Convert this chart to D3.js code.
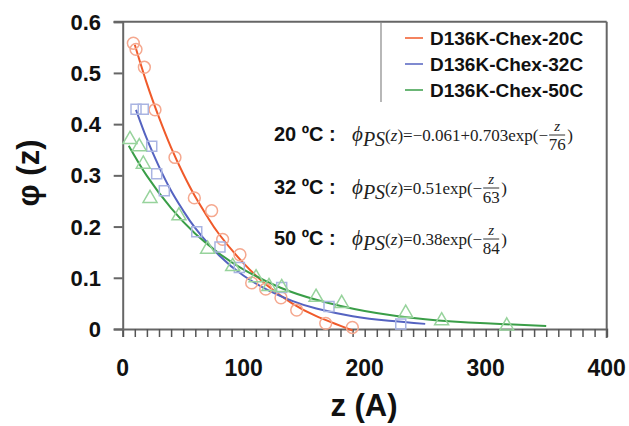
<!DOCTYPE html>
<html><head><meta charset="utf-8">
<script src="https://cdn.jsdelivr.net/npm/d3@7"></script>
<style>body{margin:0;background:#fff}svg{display:block}</style>
</head><body>
<script>
// ---- data ----
const seriesNames = ["D136K-Chex-20C", "D136K-Chex-32C", "D136K-Chex-50C"];
const xTicks = [0, 100, 200, 300, 400];
const yTicks = [0, 0.1, 0.2, 0.3, 0.4, 0.5, 0.6];

// measured points
const z20 = [8.8, 11, 17.9, 26.7, 43.2, 59.2, 73.5, 82.6, 96.9, 106.6, 118.2, 130.8, 143.8, 167.8, 189.8];
const p20 = [0.558, 0.546, 0.511, 0.428, 0.335, 0.256, 0.231, 0.175, 0.145, 0.090, 0.078, 0.061, 0.037, 0.011, 0.003];
const z32 = [11, 17, 24, 28.1, 34.4, 61.2, 80.4, 96.4, 131.4, 170.5, 229.8];
const p32 = [0.429, 0.429, 0.357, 0.303, 0.270, 0.190, 0.160, 0.120, 0.081, 0.044, 0.010];
const z50 = [6, 13.7, 17, 22.6, 46.5, 70.2, 90.9, 110.2, 120.9, 131.4, 159.8, 181, 233.9, 263.6, 317.4];
const p50 = [0.370, 0.356, 0.322, 0.255, 0.221, 0.156, 0.122, 0.100, 0.083, 0.081, 0.062, 0.050, 0.031, 0.016, 0.006];

// fitted curves
const fz20 = [10, 20, 30, 40, 50, 60, 70, 80, 100, 120, 140, 160, 190];
const fp20 = [0.555, 0.479, 0.413, 0.354, 0.303, 0.258, 0.219, 0.184, 0.128, 0.084, 0.050, 0.025, -0.003];
const fz32 = [11, 20, 30, 40, 50, 60, 80, 100, 120, 140, 160, 190, 220, 250];
const fp32 = [0.428, 0.371, 0.317, 0.270, 0.231, 0.197, 0.143, 0.104, 0.076, 0.055, 0.040, 0.025, 0.016, 0.010];
const fz50 = [5, 20, 40, 60, 80, 100, 130, 160, 200, 250, 300, 350];
const fp50 = [0.358, 0.299, 0.236, 0.186, 0.147, 0.116, 0.081, 0.057, 0.035, 0.019, 0.011, 0.006];

const eqLabels = ["20 ºC :", "32 ºC :", "50 ºC :"];
const eqBodies = ["=−0.061+0.703exp(−", "=0.51exp(−", "=0.38exp(−"];
const eqDenoms = ["76", "63", "84"];

// ---- drawing ----
const W = 629, H = 426;
const X0 = 122.7, X1 = 606.7, Y0 = 329, Y1 = 21.7;
const lineCols = ["#f05a2a", "#5563c1", "#3a9e48"];
const markCols = ["#f5a88f", "#a9b4e2", "#97d39c"];
const sans = "'Liberation Sans', Arial, sans-serif";
const serif = "'Liberation Serif', 'Times New Roman', serif";

const svg = d3.select("body").append("svg").attr("width", W).attr("height", H);
const x = d3.scaleLinear().domain([0, 400]).range([X0, X1]);
const y = d3.scaleLinear().domain([0, 0.6]).range([Y0, Y1]);

// frame top & right
svg.append("line").attr("x1", X0 - 9).attr("x2", X1).attr("y1", Y1).attr("y2", Y1).attr("stroke", "#666").attr("stroke-width", 2);
svg.append("line").attr("x1", X1).attr("x2", X1).attr("y1", Y1).attr("y2", Y0 + 9).attr("stroke", "#666").attr("stroke-width", 2);

// x axis
const xa = svg.append("g").attr("transform", `translate(0,${Y0})`)
  .call(d3.axisBottom(x).tickValues(d3.range(0, 401, 10)).tickSize(8).tickFormat(""));
xa.select(".domain").attr("stroke", "#666").attr("stroke-width", 2);
xa.selectAll(".tick line").attr("stroke", "#555").attr("stroke-width", 1.5);
svg.append("g").selectAll("text").data(xTicks).join("text")
  .attr("x", d => x(d)).attr("y", 376).attr("text-anchor", "middle")
  .attr("font-family", sans).attr("font-weight", "bold").attr("font-size", 23).attr("fill", "#111")
  .text(d => d);

// y axis
const ya = svg.append("g").attr("transform", `translate(${X0},0)`)
  .call(d3.axisLeft(y).tickValues(yTicks).tickSize(9).tickFormat(""));
ya.select(".domain").attr("stroke", "#666").attr("stroke-width", 2);
ya.selectAll(".tick line").attr("stroke", "#666").attr("stroke-width", 2);
svg.append("g").selectAll("text").data(yTicks).join("text")
  .attr("x", 101).attr("y", d => y(d) + 8).attr("text-anchor", "end")
  .attr("font-family", sans).attr("font-weight", "bold").attr("font-size", 22).attr("fill", "#111")
  .text(d => d === 0 ? "0" : d3.format(".1f")(d));

// axis titles
svg.append("text").attr("x", 364).attr("y", 416).attr("text-anchor", "middle")
  .attr("font-family", sans).attr("font-weight", "bold").attr("font-size", 31).attr("fill", "#111").text("z (A)");
svg.append("text").attr("transform", "translate(39,173) rotate(-90)").attr("text-anchor", "middle")
  .attr("font-family", sans).attr("font-weight", "bold").attr("font-size", 31).attr("fill", "#111").text("φ (z)");

// curves
const line = d3.line().x(d => x(d[0])).y(d => y(d[1])).curve(d3.curveNatural);
const fits = [[fz20, fp20], [fz32, fp32], [fz50, fp50]];
fits.forEach((f, i) => {
  svg.append("path").datum(f[0].map((v, j) => [v, f[1][j]]))
    .attr("d", line).attr("fill", "none").attr("stroke", lineCols[i]).attr("stroke-width", 2);
});

// markers
const pts = [[z20, p20], [z32, p32], [z50, p50]];
const sym = [d3.symbolCircle, d3.symbolSquare, d3.symbolTriangle];
const sizes = [110, 100, 85];
pts.forEach((p, i) => {
  svg.append("g").selectAll("path").data(p[0].map((v, j) => [v, p[1][j]])).join("path")
    .attr("transform", d => `translate(${x(d[0])},${y(d[1])})`)
    .attr("d", d3.symbol().type(sym[i]).size(sizes[i]))
    .attr("fill", "none").attr("stroke", markCols[i]).attr("stroke-width", 1.5);
});

// legend
svg.append("line").attr("x1", 381).attr("x2", 381).attr("y1", Y1).attr("y2", 102).attr("stroke", "#888").attr("stroke-width", 1.2);
seriesNames.forEach((n, i) => {
  const yy = 38 + i * 26;
  svg.append("line").attr("x1", 405).attr("x2", 423).attr("y1", yy).attr("y2", yy).attr("stroke", lineCols[i]).attr("stroke-width", 1.5);
  svg.append("text").attr("x", 430).attr("y", yy + 7).attr("font-family", sans).attr("font-weight", "bold")
    .attr("font-size", 19).attr("fill", "#111").text(n);
});

// equations
const eqBase = [141, 194, 245];
eqLabels.forEach((lab, i) => {
  const by = eqBase[i];
  svg.append("text").attr("x", 274).attr("y", by).attr("font-family", sans).attr("font-weight", "bold")
    .attr("font-size", 20).attr("fill", "#111").text(lab);
  const t = svg.append("text").attr("x", 352).attr("y", by).attr("font-family", serif).attr("font-size", 17).attr("fill", "#222");
  t.append("tspan").attr("font-style", "italic").attr("font-size", 21).text("ϕ");
  t.append("tspan").attr("font-style", "italic").attr("font-size", 20).attr("dy", 5).text("PS");
  t.append("tspan").attr("dy", -5).text("(");
  t.append("tspan").attr("font-style", "italic").text("z");
  t.append("tspan").text(")");
  t.append("tspan").text(eqBodies[i]);
  const bb = t.node().getBBox();
  const fx = bb.x + bb.width + 1;
  const fw = 16;
  svg.append("line").attr("x1", fx).attr("x2", fx + fw).attr("y1", by - 6).attr("y2", by - 6).attr("stroke", "#333").attr("stroke-width", 1);
  svg.append("text").attr("x", fx + fw / 2).attr("y", by - 10).attr("text-anchor", "middle").attr("font-family", serif)
    .attr("font-style", "italic").attr("font-size", 15).attr("fill", "#222").text("z");
  svg.append("text").attr("x", fx + fw / 2).attr("y", by + 9).attr("text-anchor", "middle").attr("font-family", serif)
    .attr("font-size", 17).attr("fill", "#222").text(eqDenoms[i]);
  svg.append("text").attr("x", fx + fw + 2).attr("y", by).attr("font-family", serif)
    .attr("font-size", 17).attr("fill", "#222").text(")");
});
</script>
</body></html>
